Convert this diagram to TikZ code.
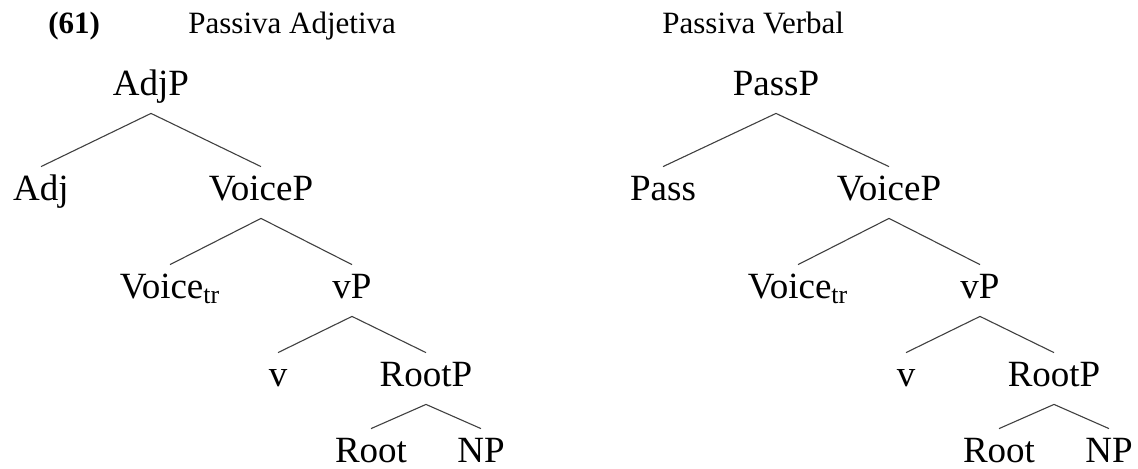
\documentclass[tikz,border=0pt]{standalone}
\usepackage{fontspec}
\setmainfont{Liberation Serif}
\usetikzlibrary{positioning}
\definecolor{cL}{rgb}{0.25,0.25,0.25}
\tikzset{mycat/.style={
  inner sep=0pt,
  text height=16.5pt,
  text depth=9pt,
  font=\fontsize{18.5}{22}\selectfont,
  on grid,
  }
}
\tikzset{myhead/.style={
  inner sep=0pt,
  anchor=base west,
  font=\fontsize{15.5}{18}\selectfont,
  }
}
\tikzset{mybranch/.style={
  draw=cL,
  line width=0.55pt,
  }
}

\begin{document}
\begin{tikzpicture}[x=0.5pt,y=0.5pt]
  \useasboundingbox (0,0) rectangle (1138,-468);

  % headings
  \node [myhead] (num) at (48,-33) {\textbf{(61)}};
  \node [myhead] (hadj) at (188,-33) {Passiva Adjetiva};
  \node [myhead] (hverb) at (662,-33) {Passiva Verbal};

  % adjectival passive
  \node [mycat, anchor=base] (adjp) at (151,-95) {AdjP};
  \node [mycat, below left =52.5pt and 55pt of adjp] (adj) {Adj};
  \node [mycat, below right=52.5pt and 55pt of adjp] (voicep) {VoiceP};
  \node [mycat, below left =49pt and 45.5pt of voicep] (voice) {Voice\textsubscript{tr}};
  \node [mycat, below right=49pt and 45.5pt of voicep] (vp) {vP};
  \node [mycat, below left =44pt and 37pt of vp] (v) {v};
  \node [mycat, below right=44pt and 37pt of vp] (rootp) {RootP};
  \node [mycat, below left =38pt and 27.5pt of rootp] (root) {Root};
  \node [mycat, below right=38pt and 27.5pt of rootp] (np) {NP};

  % verbal passive
  \node [mycat, anchor=base] (passp) at (776,-95) {PassP};
  \node [mycat, below left =52.5pt and 56.5pt of passp] (pass) {Pass};
  \node [mycat, below right=52.5pt and 56.5pt of passp] (voicepb) {VoiceP};
  \node [mycat, below left =49pt and 45.5pt of voicepb] (voiceb) {Voice\textsubscript{tr}};
  \node [mycat, below right=49pt and 45.5pt of voicepb] (vpb) {vP};
  \node [mycat, below left =44pt and 37pt of vpb] (vb) {v};
  \node [mycat, below right=44pt and 37pt of vpb] (rootpb) {RootP};
  \node [mycat, below left =38pt and 27.5pt of rootpb] (rootb) {Root};
  \node [mycat, below right=38pt and 27.5pt of rootpb] (npb) {NP};

  \draw [mybranch] (adj.north) -- (adjp.south) -- (voicep.north);
  \draw [mybranch] (voice.north) -- (voicep.south) -- (vp.north);
  \draw [mybranch] (v.north) -- (vp.south) -- (rootp.north);
  \draw [mybranch] (root.north) -- (rootp.south) -- (np.north);

  \draw [mybranch] (pass.north) -- (passp.south) -- (voicepb.north);
  \draw [mybranch] (voiceb.north) -- (voicepb.south) -- (vpb.north);
  \draw [mybranch] (vb.north) -- (vpb.south) -- (rootpb.north);
  \draw [mybranch] (rootb.north) -- (rootpb.south) -- (npb.north);
\end{tikzpicture}
\end{document}
